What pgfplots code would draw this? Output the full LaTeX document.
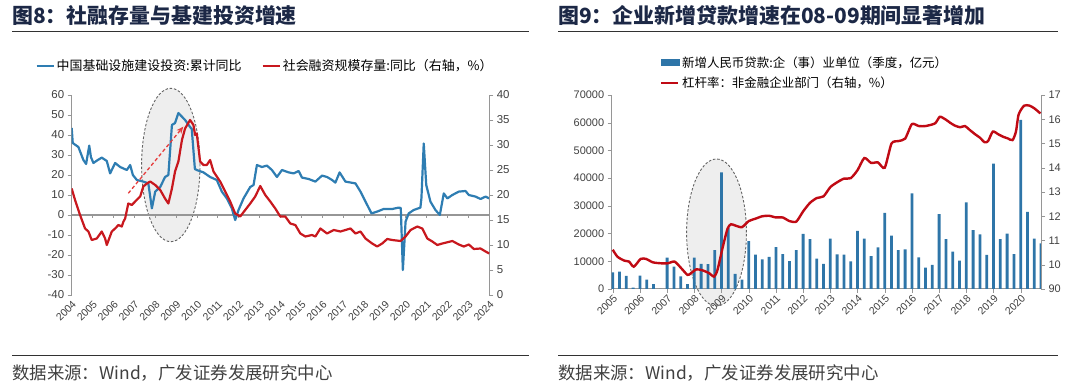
\documentclass[border=0pt]{standalone}
\usepackage{pgfplots}
\pgfplotsset{compat=1.18}
\usepackage{fontspec}
\usetikzlibrary{arrows.meta}
\setmainfont{Liberation Sans}
\newfontfamily\cjk{Noto Sans CJK SC}
\definecolor{titlec}{RGB}{28,40,70}
\definecolor{rulec}{RGB}{50,50,50}
\definecolor{axisc}{RGB}{150,150,150}
\definecolor{tickc}{RGB}{64,64,64}
\definecolor{blueL}{RGB}{46,125,178}
\definecolor{redL}{RGB}{200,24,30}
\definecolor{barc}{RGB}{46,117,168}
\definecolor{red9}{RGB}{192,10,20}
\definecolor{ellf}{RGB}{238,238,238}
\definecolor{elld}{RGB}{100,100,100}
\definecolor{arrc}{RGB}{230,60,60}
\begin{document}
\begin{tikzpicture}
\path[use as bounding box] (0bp,0bp) rectangle (1080bp,389bp);
% titles and rules
\node[anchor=west,inner sep=0,text=titlec,font=\cjk\bfseries\fontsize{21}{21}\selectfont] at (12bp,373.5bp) {图8：社融存量与基建投资增速};
\node[anchor=west,inner sep=0,text=titlec,font=\cjk\bfseries\fontsize{21}{21}\selectfont] at (558bp,373.5bp) {图9：企业新增贷款增速在08-09期间显著增加};
\draw[rulec,line width=1.2bp] (12bp,357.5bp) -- (529bp,357.5bp);
\draw[rulec,line width=1.2bp] (558bp,357.5bp) -- (1058bp,357.5bp);
\draw[rulec,line width=1bp] (12bp,33bp) -- (529bp,33bp);
\draw[rulec,line width=1bp] (558bp,33bp) -- (1058bp,33bp);
\node[anchor=west,inner sep=0,text=tickc,font=\cjk\fontsize{17.5}{17.5}\selectfont] at (12bp,15.5bp) {数据来源：Wind，广发证券发展研究中心};
\node[anchor=west,inner sep=0,text=tickc,font=\cjk\fontsize{17.5}{17.5}\selectfont] at (558bp,15.5bp) {数据来源：Wind，广发证券发展研究中心};
% highlight ellipses (behind the data)
\draw[elld,fill=ellf,dash pattern=on 2.5bp off 1.8bp,line width=0.9bp] (170.8bp,224bp) ellipse [x radius=29.2bp, y radius=76.7bp];
\draw[elld,fill=ellf,dash pattern=on 2.5bp off 1.8bp,line width=0.9bp] (716.5bp,156.5bp) ellipse [x radius=29.9bp, y radius=73.5bp];
% zero line of chart 8
\draw[axisc,line width=1.2bp] (71.7bp,174bp) -- (489.3bp,174bp);
\foreach \k in {1,...,19} {\draw[axisc,line width=0.8bp] ({71.7bp+\k*20.88bp},174bp) -- ++(0,-3.5bp);}

% ===== Chart 8 =====
\begin{axis}[
  at={(71.7bp,94bp)}, anchor=south west, width=417.6bp, height=200bp, scale only axis,
  xmin=0, xmax=20, ymin=-40, ymax=60,
  axis y line*=left, axis x line*=bottom,
  x axis line style={draw=none}, xtick style={draw=none},
  xtick={0,...,20},
  xticklabels={2004,2005,2006,2007,2008,2009,2010,2011,2012,2013,2014,2015,2016,2017,2018,2019,2020,2021,2022,2023,2024},
  xticklabel style={rotate=45,anchor=north east,inner sep=0.5pt,font=\fontsize{10.5}{10.5}\selectfont,text=tickc},
  ytick={-40,-30,...,60},
  yticklabels={-40,-30,-20,-10,0,10,20,30,40,50,60},
  yticklabel style={font=\fontsize{11.5}{11.5}\selectfont,text=tickc},
  tick align=outside, major tick length=4bp,
  y axis line style={draw=axisc,line width=1bp}, ytick style={draw=axisc},
  legend columns=2,
  legend style={draw=none,fill=none,at={(0.463,1.145)},anchor=center,
    font=\cjk\fontsize{13}{13}\selectfont,
    /tikz/every even column/.append style={column sep=18bp}},
]
\addplot[blueL,line width=2.2bp,line join=round] coordinates {
(0.0,43.5)(0.05,36)(0.32,34)(0.56,27.5)(0.69,25.5)(0.84,34.7)(0.92,29)(1.04,26)(1.25,27.5)(1.44,28.7)(1.68,27)(1.84,20.8)(2.08,26)(2.32,24)(2.64,22.5)(2.8,25)(2.93,20)(3.12,17.5)(3.43,16.7)(3.67,15.8)(3.84,3.3)(4.0,11.7)(4.24,14)(4.47,19)(4.63,20)(4.8,45)(4.95,46)(5.11,51)(5.43,47.5)(5.67,44)(5.75,43)(5.9,23)(5.99,22.5)(6.31,21.3)(6.63,19)(6.95,17.5)(7.19,11.7)(7.43,8.3)(7.67,3.3)(7.83,-2.5)(7.99,2.5)(8.23,8.3)(8.55,14)(8.71,15)(8.87,25)(9.11,24)(9.35,24.7)(9.59,22.5)(9.83,19)(10.07,22.5)(10.39,21.3)(10.63,20.8)(10.87,22)(11.03,18.7)(11.35,18)(11.67,16.7)(11.99,19.7)(12.23,19)(12.47,17.5)(12.63,16.2)(12.83,21.3)(13.11,16.7)(13.59,15.8)(13.83,11.7)(14.07,6.7)(14.36,0.8)(14.63,1.7)(14.94,3)(15.35,3)(15.66,3.7)(15.76,3.5)(15.86,-27.5)(15.99,-3.3)(16.14,0.8)(16.38,2.5)(16.7,3.7)(16.75,8.5)(16.86,35.8)(16.98,15)(17.18,6.7)(17.42,2.5)(17.63,0)(17.82,10.8)(17.99,8.3)(18.23,10)(18.54,11.7)(18.86,12)(19.02,10)(19.34,9.2)(19.58,8)(19.82,9.2)(20.0,8.3)
};
\addlegendentry{中国基础设施建设投资:累计同比}
\addlegendimage{redL,line width=2.2bp}
\addlegendentry{社会融资规模存量:同比（右轴，\%）}
\end{axis}
\begin{axis}[
  at={(71.7bp,94bp)}, anchor=south west, width=417.6bp, height=200bp, scale only axis,
  xmin=0, xmax=20, ymin=0, ymax=40,
  axis y line*=right, axis x line=none,
  ytick={0,5,...,40},
  yticklabels={0,5,10,15,20,25,30,35,40},
  yticklabel style={font=\fontsize{11.5}{11.5}\selectfont,text=tickc},
  tick align=outside, major tick length=4bp,
  y axis line style={draw=axisc,line width=1bp}, ytick style={draw=axisc},
]
\addplot[redL,line width=2.2bp,line join=round] coordinates {
(0.0,21.3)(0.16,19)(0.4,16)(0.64,13.3)(0.8,12.7)(0.96,11)(1.2,11.3)(1.44,12.7)(1.6,11.3)(1.68,10)(1.92,12.7)(2.08,13.3)(2.24,14)(2.4,13.7)(2.48,14.7)(2.56,15.3)(2.71,18.3)(2.88,18)(3.04,18.7)(3.28,19.7)(3.43,21.7)(3.6,22.3)(3.76,22.7)(4.0,22)(4.24,21)(4.47,19.3)(4.63,18.3)(4.8,21.3)(4.95,24.7)(5.11,26.7)(5.28,31)(5.43,33.3)(5.67,35)(5.83,34)(5.91,32)(5.99,32.3)(6.15,26.7)(6.31,26)(6.47,26)(6.63,27)(6.79,24.7)(7.11,22.7)(7.35,20.7)(7.59,18.7)(7.83,16.3)(8.07,15.7)(8.31,17)(8.55,18.3)(8.79,19.7)(9.03,21.8)(9.27,20)(9.51,18.7)(9.75,17.3)(9.99,15.7)(10.23,15.7)(10.47,14.3)(10.71,14)(10.95,12.3)(11.19,11.7)(11.51,12)(11.67,11.7)(11.91,13.3)(12.23,12.3)(12.55,13)(12.87,12.7)(13.11,13)(13.35,13.3)(13.59,12.3)(13.83,12.7)(14.07,11.3)(14.39,10.3)(14.63,9.7)(14.87,10.3)(15.11,11.2)(15.35,11)(15.75,10.8)(15.99,11.7)(16.23,13)(16.55,13.7)(16.79,13.3)(17.03,11.3)(17.27,10.7)(17.51,10)(17.75,10.3)(18.23,10.8)(18.54,10.1)(18.78,9.7)(19.02,10.1)(19.26,9.2)(19.58,9.3)(19.82,8.7)(20.0,8.3)
};
\end{axis}
% dashed arrow annotation
\draw[-{Stealth[length=7bp,width=6bp]},arrc,line width=1.3bp,dash pattern=on 3.5bp off 2.5bp] (128.3bp,195.7bp) -- (183.3bp,262.3bp);

% ===== Chart 9 =====
\begin{axis}[
  at={(611.7bp,100bp)}, anchor=south west, width=429.4bp, height=194bp, scale only axis,
  xmin=-0.15, xmax=63, ymin=0, ymax=70000,
  axis y line*=left, axis x line*=bottom,
  xtick={0,4,...,60},
  xticklabels={2005,2006,2007,2008,2009,2010,2011,2012,2013,2014,2015,2016,2017,2018,2019,2020},
  xticklabel style={rotate=45,anchor=north east,inner sep=0.5pt,font=\fontsize{10.5}{10.5}\selectfont,text=tickc},
  ytick={0,10000,...,70000},
  yticklabels={0,10000,20000,30000,40000,50000,60000,70000},
  yticklabel style={font=\fontsize{11}{11}\selectfont,text=tickc},
  scaled y ticks=false,
  tick align=outside, major tick length=4bp,
  axis line style={draw=axisc,line width=1bp}, tick style={draw=axisc},
  legend cell align=left,
  legend style={draw=none,fill=none,at={(0.105,1.22)},anchor=north west,row sep=4bp,
    font=\cjk\fontsize{12.5}{12.5}\selectfont},
]
\addplot[ybar,bar width=2.8bp,bar shift=0pt,fill=barc,draw=none,
  legend image code/.code={\fill[barc] (0bp,-3.5bp) rectangle (19bp,3.5bp);}] coordinates {
(0,6000)(1,6250)(2,4700)(3,500)(4,4800)(5,3400)(6,1800)(7,0)(8,11300)(9,8100)(10,4600)(11,1800)(12,11300)(13,9100)(14,9000)(15,14000)(16,42100)(17,22000)(18,5500)(19,3400)(20,17300)(21,12400)(22,10700)(23,11600)(24,15100)(25,12600)(26,10100)(27,14000)(28,19900)(29,18000)(30,11000)(31,9100)(32,18200)(33,12500)(34,12400)(35,10000)(36,21000)(37,18200)(38,11900)(39,15000)(40,27500)(41,19300)(42,14000)(43,14300)(44,34500)(45,11400)(46,7700)(47,8700)(48,27000)(49,18000)(50,13500)(51,10200)(52,31300)(53,21200)(54,19700)(55,12300)(56,45200)(57,18000)(58,20000)(59,12600)(60,61000)(61,27800)(62,18200)(63,16500)
};
\addlegendentry{新增人民币贷款:企（事）业单位（季度，亿元）}
\addlegendimage{line legend,red9,line width=2.4bp}
\addlegendentry{杠杆率：非金融企业部门（右轴，\%）}
\end{axis}
\begin{axis}[
  at={(611.7bp,100bp)}, anchor=south west, width=429.4bp, height=194bp, scale only axis,
  xmin=-0.15, xmax=63, ymin=9, ymax=17,
  axis y line*=right, axis x line=none,
  ytick={9,10,...,17},
  yticklabels={90,10,11,12,13,14,15,16,17},
  yticklabel style={font=\fontsize{11}{11}\selectfont,text=tickc},
  tick align=outside, major tick length=4bp,
  y axis line style={draw=axisc,line width=1bp}, ytick style={draw=axisc},
]
\addplot[red9,line width=2.4bp,smooth,tension=0.4] coordinates {
(0,10.62)(0.7,10.33)(1.7,10.17)(2.4,10.13)(3.1,9.92)(4.1,10.24)(4.9,10.24)(5.9,10.1)(7.1,10.06)(8.1,10.06)(9.1,10.13)(10.1,9.85)(11.0,9.58)(11.5,9.65)(12.3,9.81)(13.2,9.77)(14.2,9.65)(14.9,9.51)(15.4,9.78)(16.2,10.75)(16.9,11.5)(17.4,11.67)(18,11.62)(19,11.55)(20,11.8)(21,11.9)(22,12.0)(23,12.02)(24,11.95)(25,11.95)(26,11.8)(27,11.78)(28,12.2)(29,12.55)(30,12.75)(31,12.82)(32,13.2)(33,13.4)(34,13.55)(35,13.57)(36,13.9)(37,14.4)(38,14.2)(39,14.22)(40,14.0)(41,15.0)(42,15.1)(43,15.2)(44,15.8)(45,15.72)(46,15.72)(47.4,15.83)(48.1,16.1)(48.9,16.0)(49.6,15.86)(50.3,15.74)(51.1,15.67)(51.8,15.72)(52.5,15.56)(53.3,15.38)(54.0,15.24)(54.7,15.05)(55.2,15.1)(55.9,15.49)(56.7,15.38)(57.4,15.28)(58.1,15.21)(58.8,15.14)(59.3,15.49)(59.7,16.2)(60.5,16.56)(61.3,16.56)(62.0,16.45)(62.9,16.24)
};
\end{axis}
\end{tikzpicture}
\end{document}
